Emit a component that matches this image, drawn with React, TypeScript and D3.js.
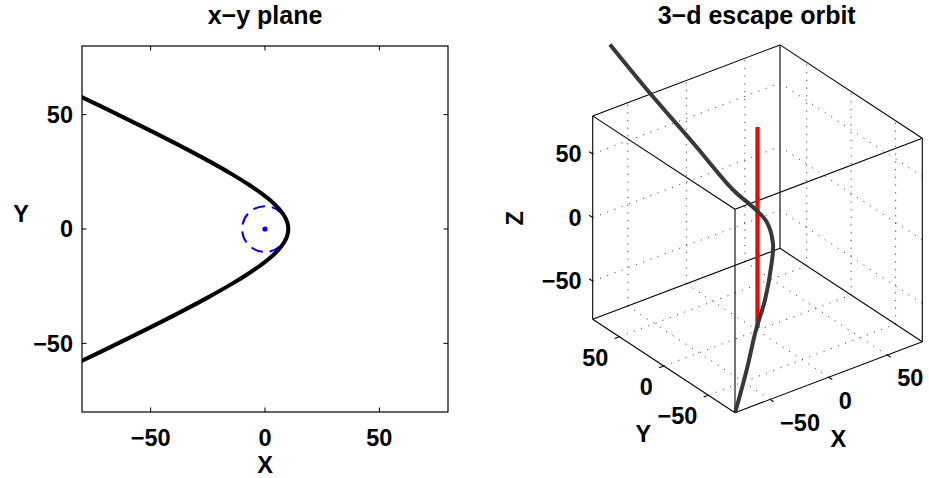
import React from "react";
import * as d3 from "d3";

// ---------- data ----------
const tickValues = [-50, 0, 50];
const axisLimits = [-80, 80];

// x-y plane orbit
const orbitX = [-89.1, -80.8, -66.3, -52.1, -38.3, -25.1, -14.5, -6.5, -0.8, 2.9, 5.95, 8.26, 9.71, 10.2, 9.71, 8.26, 5.95, 2.9, -0.8, -6.5, -14.5, -25.1, -38.3, -52.1, -66.3, -80.8, -89.1];
const orbitY = [62, 58, 51, 44, 37, 30, 24, 19, 15, 12, 9, 6, 3, 0, -3, -6, -9, -12, -15, -19, -24, -30, -37, -44, -51, -58, -62];

const circleRadius = 10;

// 3-d orbit
const orbit3X = [-82, -56.3, -30, -6.4, 4.25, 9.7, 7.5, 3.7, -10, -23.3, -37, -53.5];
const orbit3Y = [58, 46.7, 32.6, 18.9, 10.75, 2.5, -7.5, -11, -21.6, -29, -36.5, -45.3];
const orbit3Z = [147, 104.8, 62.8, 24.1, 10.7, 1, -10.5, -23.4, -42.6, -58, -81.4, -105];

const redLineZ = [-78, 80];

// ---------- layout ----------
const W = 929, H = 478;
const FONT = "'Liberation Sans', Arial, Helvetica, sans-serif";
const TICK_FS = 23.5;
const TITLE_FS = 25;

const L = { left: 82, right: 448, top: 46, bottom: 412 };

// 3-d projection: origin corner (xmin,ymin,zmin) and unit vectors over full range
const P0 = [735, 412.7];
const UX = [187.3, -71];
const UY = [-142.3, -93.4];
const UZ = [0, -203.4];

function LeftPanel() {
  const xs = d3.scaleLinear().domain(axisLimits).range([L.left, L.right]);
  const ys = d3.scaleLinear().domain(axisLimits).range([L.bottom, L.top]);
  const pts: [number, number][] = orbitX.map((x, i) => [xs(x), ys(orbitY[i])]);
  const line = d3.line().curve(d3.curveCatmullRom.alpha(0.5));
  const tl = 4.5;
  const fmt = d3.format("d");
  return (
    <g>
      <defs>
        <clipPath id="leftclip">
          <rect x={L.left} y={L.top} width={L.right - L.left} height={L.bottom - L.top} />
        </clipPath>
      </defs>
      <rect x={L.left} y={L.top} width={L.right - L.left} height={L.bottom - L.top} fill="white" stroke="none" />
      <g clipPath="url(#leftclip)">
        <circle cx={xs(0)} cy={ys(0)} r={xs(circleRadius) - xs(0)} fill="none" stroke="#0000ff" strokeWidth={2} strokeDasharray="12,7" />
        <circle cx={xs(0)} cy={ys(0)} r={2.6} fill="#0000ff" />
        <path d={line(pts) || ""} fill="none" stroke="#000" strokeWidth={4} strokeLinejoin="round" />
      </g>
      {tickValues.map((t) => (
        <g key={"t" + t} stroke="#000" strokeWidth={1}>
          <line x1={xs(t)} x2={xs(t)} y1={L.bottom} y2={L.bottom - tl} />
          <line x1={xs(t)} x2={xs(t)} y1={L.top} y2={L.top + tl} />
          <line x1={L.left} x2={L.left + tl} y1={ys(t)} y2={ys(t)} />
          <line x1={L.right} x2={L.right - tl} y1={ys(t)} y2={ys(t)} />
        </g>
      ))}
      <rect x={L.left} y={L.top} width={L.right - L.left} height={L.bottom - L.top} fill="none" stroke="#000" strokeWidth={1.2} />
      <g fontFamily={FONT} fontWeight="bold" fontSize={TICK_FS} fill="#000">
        {tickValues.map((t) => (
          <text key={"xl" + t} x={xs(t)} y={446} textAnchor="middle">{fmt(t)}</text>
        ))}
        {tickValues.map((t) => (
          <text key={"yl" + t} x={73} y={ys(t) + 8.3} textAnchor="end">{fmt(t)}</text>
        ))}
        <text x={xs(0)} y={473} textAnchor="middle">X</text>
        <text x={21} y={222} textAnchor="middle">Y</text>
        <text x={xs(0)} y={24} textAnchor="middle" fontSize={TITLE_FS}>x−y plane</text>
      </g>
    </g>
  );
}

function RightPanel() {
  const n = d3.scaleLinear().domain(axisLimits).range([0, 1]);
  const proj = (x: number, y: number, z: number): [number, number] => [
    P0[0] + n(x) * UX[0] + n(y) * UY[0] + n(z) * UZ[0],
    P0[1] + n(x) * UX[1] + n(y) * UY[1] + n(z) * UZ[1],
  ];
  const [lo, hi] = axisLimits;
  const seg = (a: [number, number, number], b: [number, number, number]) => {
    const p = proj(a[0], a[1], a[2]);
    const q = proj(b[0], b[1], b[2]);
    return { x1: p[0], y1: p[1], x2: q[0], y2: q[1] };
  };
  // grid on back walls: y=hi, x=hi, z=lo
  const grid: ReturnType<typeof seg>[] = [];
  tickValues.forEach((t) => {
    grid.push(seg([t, hi, lo], [t, hi, hi]));
    grid.push(seg([lo, hi, t], [hi, hi, t]));
    grid.push(seg([hi, t, lo], [hi, t, hi]));
    grid.push(seg([hi, lo, t], [hi, hi, t]));
    grid.push(seg([t, lo, lo], [t, hi, lo]));
    grid.push(seg([lo, t, lo], [hi, t, lo]));
  });
  const corners: [number, number, number][] = [];
  [lo, hi].forEach((x) => [lo, hi].forEach((y) => [lo, hi].forEach((z) => corners.push([x, y, z]))));
  const edges: ReturnType<typeof seg>[] = [];
  for (let i = 0; i < corners.length; i++) {
    for (let j = i + 1; j < corners.length; j++) {
      const a = corners[i], b = corners[j];
      const diff = a.filter((v, k) => v !== b[k]).length;
      if (diff === 1) edges.push(seg(a, b));
    }
  }
  const tk = 4;
  const fmt = d3.format("d");
  const pts3 = orbit3X.map((x, i) => proj(x, orbit3Y[i], orbit3Z[i]));
  const line = d3.line().curve(d3.curveCatmullRom.alpha(0.5));
  const red = [proj(0, 0, redLineZ[0]), proj(0, 0, redLineZ[1])];
  return (
    <g>
      <g stroke="#4a4a4a" strokeWidth={1} strokeDasharray="1.2,6.5" fill="none">
        {grid.map((g, i) => <line key={"g" + i} {...g} />)}
      </g>
      <g stroke="#000" strokeWidth={1.1}>
        {edges.map((e, i) => <line key={"e" + i} {...e} />)}
        {tickValues.map((t) => <line key={"zt" + t} {...seg([lo, hi, t], [lo, hi + tk, t])} />)}
        {tickValues.map((t) => <line key={"yt" + t} {...seg([lo, t, lo], [lo - tk, t, lo])} />)}
        {tickValues.map((t) => <line key={"xt" + t} {...seg([t, lo, lo], [t, lo - tk, lo])} />)}
      </g>
      <line x1={red[0][0]} y1={red[0][1]} x2={red[1][0]} y2={red[1][1]} stroke="#ff0000" strokeWidth={4.3} />
      <path d={line(pts3) || ""} fill="none" stroke="#383838" strokeWidth={4} strokeLinejoin="round" />
      <g fontFamily={FONT} fontWeight="bold" fontSize={TICK_FS} fill="#000">
        {tickValues.map((t) => {
          const p = proj(lo, hi, t);
          return <text key={"zl" + t} x={p[0] - 11} y={p[1] + 8.3} textAnchor="end">{fmt(t)}</text>;
        })}
        {tickValues.map((t) => {
          const p = proj(lo, t, lo);
          return <text key={"yl" + t} x={p[0] - 11} y={p[1] + 21 + 8.3} textAnchor="end">{fmt(t)}</text>;
        })}
        {tickValues.map((t) => {
          const p = proj(t, lo, lo);
          return <text key={"xl" + t} x={p[0] + 10} y={p[1] + 23 + 8.3} textAnchor="start">{fmt(t)}</text>;
        })}
        <text x={643.3} y={441.6} textAnchor="middle">Y</text>
        <text x={838.3} y={446.6} textAnchor="middle">X</text>
        <text transform="translate(514.3,218.3) rotate(-90)" dy={8.3} textAnchor="middle">Z</text>
        <text x={756.7} y={24} textAnchor="middle" fontSize={TITLE_FS}>3−d escape orbit</text>
      </g>
    </g>
  );
}

export default function App() {
  return (
    <div style={{ position: "absolute", left: 0, top: 0, width: W, height: H, background: "#fff" }}>
      <svg width={W} height={H} viewBox={`0 0 ${W} ${H}`} style={{ display: "block" }}>
        <rect width={W} height={H} fill="#fff" />
        <LeftPanel />
        <RightPanel />
      </svg>
    </div>
  );
}
